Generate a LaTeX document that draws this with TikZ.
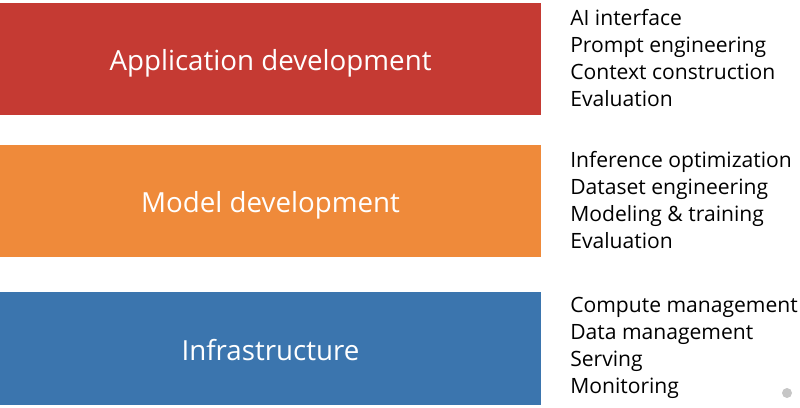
\documentclass[tikz,border=0pt]{standalone}
\usepackage{fontspec}
\setmainfont{Open Sans}
\usetikzlibrary{positioning}

\definecolor{appred}{HTML}{C53A33}
\definecolor{modorange}{HTML}{EF8A3A}
\definecolor{infblue}{HTML}{3B75AE}

\tikzset{
  layer/.style={fill=#1, draw=none, minimum width=13.525cm, minimum height=2.8cm,
    inner sep=0pt, text=white, text height=16.5pt, text depth=0pt,
    font=\fontsize{19.7}{23}\selectfont},
  tasks/.style={anchor=west, inner sep=0pt, align=left,
    font=\fontsize{15}{19.2}\selectfont}
}

\begin{document}
\begin{tikzpicture}[x=0.025cm, y=-0.025cm]
  \useasboundingbox (0,0) rectangle (800,407);
  % layers
  \node[layer=appred]    (app) at (270.5,59)    {Application development};
  \node[layer=modorange] (mod) at (270.5,201)   {Model development};
  \node[layer=infblue]   (inf) at (270.5,348.5) {Infrastructure};
  % task lists
  \node[tasks] (apptasks) at (570,58.5)
    {AI interface\\Prompt engineering\\Context construction\\Evaluation};
  \node[tasks] (modtasks) at (570,200.5)
    {Inference optimization\\Dataset engineering\\Modeling \& training\\Evaluation};
  \node[tasks] (inftasks) at (570,347.5)
    {Compute management\\Data management\\Serving\\Monitoring};
  % corner mark
  \fill[gray!45] (787,393) circle (5);
\end{tikzpicture}
\end{document}
